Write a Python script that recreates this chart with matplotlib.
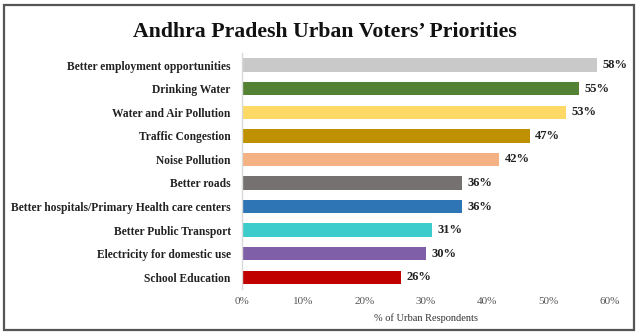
import matplotlib
matplotlib.use("Agg")
import matplotlib.pyplot as plt
from matplotlib.patches import Rectangle
from matplotlib.ticker import FuncFormatter

categories = [
    "Better employment opportunities",
    "Drinking Water",
    "Water and Air Pollution",
    "Traffic Congestion",
    "Noise Pollution",
    "Better roads",
    "Better hospitals/Primary Health care centers",
    "Better Public Transport",
    "Electricity for domestic use",
    "School Education",
]
values = [58, 55, 53, 47, 42, 36, 36, 31, 30, 26]
colors = ["#C9C9C9", "#548235", "#FFD966", "#BF9000", "#F4B183",
          "#767171", "#2E75B6", "#3DCCCC", "#7F5FA8", "#C00000"]
xticks = [0, 10, 20, 30, 40, 50, 60]

plt.rcParams["font.family"] = ["Liberation Serif", "DejaVu Serif"]

fig = plt.figure(figsize=(6.4, 3.35), dpi=100)
ax = fig.add_axes([0.378, 0.137, 0.574, 0.704])

ypos = list(range(len(categories)))
ax.barh(ypos, values, height=0.57, color=colors, zorder=2)
ax.set_ylim(len(categories) - 0.5, -0.5)
ax.set_xlim(0, 60)

for y, v in zip(ypos, values):
    ax.text(v + 0.9, y, f"{v}%", va="center", ha="left",
            fontsize=9, fontweight="bold", color="#222222")

ax.set_yticks(ypos)
ax.set_yticklabels(categories, fontsize=8.3, fontweight="bold", color="#222222")
ax.set_xticks(xticks)
ax.xaxis.set_major_formatter(FuncFormatter(lambda x, _: f"{x:.0f}%"))
ax.tick_params(axis="x", labelsize=8, length=0, pad=6, colors="#555555")
ax.tick_params(axis="y", length=0, pad=8)
ax.set_xlabel("% of Urban Respondents", fontsize=7.5, color="#333333", labelpad=5)

for side in ("top", "right", "bottom"):
    ax.spines[side].set_visible(False)
ax.spines["left"].set_color("#D9D9D9")
ax.spines["left"].set_linewidth(1.0)

fig.text(0.508, 0.905, "Andhra Pradesh Urban Voters\u2019 Priorities",
         ha="center", va="center", fontsize=15.7, fontweight="bold", color="#111111")

fig.patches.append(Rectangle((0.006, 0.016), 0.985, 0.97, transform=fig.transFigure,
                             fill=False, edgecolor="#555555", linewidth=1.6))

fig.savefig("out.png", dpi=100)
